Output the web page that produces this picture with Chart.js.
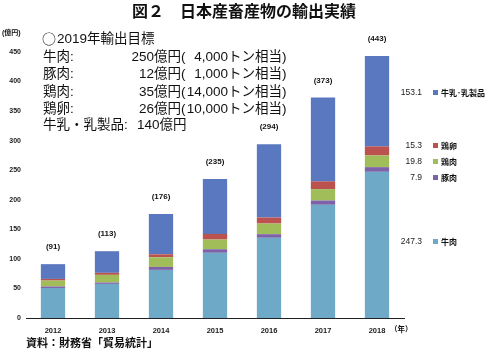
<!DOCTYPE html>
<html><head><meta charset="utf-8">
<script src="https://cdn.jsdelivr.net/npm/chart.js@4/dist/chart.umd.min.js"></script>
<style>html,body{margin:0;padding:0;background:#fff;}#wrap{position:relative;width:488px;height:355px;}</style>
</head><body><div id="wrap"><canvas id="c" width="488" height="355"></canvas></div>
<script>
const years = ['2012','2013','2014','2015','2016','2017','2018'];
const beef    = [50.8, 57.7, 81.4, 110.3, 135.7, 191.5, 247.3];
const pork    = [2.5, 2.3, 5.0, 6.0, 6.1, 7.3, 7.9];
const chicken = [10.0, 13.0, 16.4, 16.4, 18.0, 19.3, 19.8];
const egg     = [2.8, 3.4, 5.0, 9.6, 10.2, 13.0, 15.3];
const dairy   = [25.0, 36.6, 68.2, 92.7, 124.0, 141.9, 153.1];
const totals  = [91, 113, 176, 235, 294, 373, 443];
const seriesNames = ['牛肉','豚肉','鶏肉','鶏卵','牛乳･乳製品'];
const lastValues = ['247.3','7.9','19.8','15.3','153.1'];
const yTicks = [0,50,100,150,200,250,300,350,400,450];
const title = '図２　日本産畜産物の輸出実績';
const source = '資料：財務省「貿易統計」';
const goalHead = ['○','2019年輸出目標'];
const goalItems = ['牛肉:','豚肉:','鶏肉:','鶏卵:'];
const goalYen = ['250','12','35','26'];
const goalTon = ['4,000','1,000','14,000','10,000'];
const goalDairy = ['牛乳・乳製品:','140億円'];

const colors = ['#6FA9C8','#7D62A8','#A1BD5A','#BC524F','#5A78C0'];
const F = "'Liberation Sans','Noto Sans CJK JP',sans-serif";
const FJ = "'Noto Sans CJK JP',sans-serif";

const textPlugin = {
  id: 'texts',
  afterDraw(chart) {
    const ctx = chart.ctx;
    const y = chart.scales.y, x = chart.scales.x;
    ctx.save();
    ctx.fillStyle = '#111';
    ctx.font = "bold 16px " + FJ;
    ctx.textAlign = 'center'; ctx.textBaseline = 'middle';
    ctx.fillText(title, 244, 11);
    ctx.font = "bold 7px " + F;
    ctx.textAlign = 'left';
    ctx.fillText('(億円)', 2, 33);
    ctx.font = "bold 7.5px " + F;
    ctx.fillText('（年）', 390, 330);
    ctx.font = "bold 8px " + F;
    ctx.textAlign = 'center';
    totals.forEach((t, i) => {
      ctx.fillText('(' + t + ')', x.getPixelForValue(i), y.getPixelForValue(t) - 17);
    });
    ctx.textAlign = 'left';
    ctx.font = "14px " + FJ;
    ctx.fillText(goalHead[0], 42, 39);
    ctx.font = "13.5px " + F;
    ctx.fillText(goalHead[1], 57, 39);
    const ly = [57, 74.5, 92, 109];
    goalItems.forEach((g, i) => {
      ctx.textAlign = 'left';
      ctx.fillText(g, 43, ly[i]);
      ctx.textAlign = 'right';
      ctx.fillText(goalYen[i], 154, ly[i]);
      ctx.textAlign = 'left';
      ctx.fillText('億円(', 154, ly[i]);
      ctx.textAlign = 'right';
      ctx.fillText(goalTon[i], 228, ly[i]);
      ctx.textAlign = 'left';
      ctx.fillText('トン相当)', 228, ly[i]);
    });
    ctx.fillText(goalDairy[0], 43, 125);
    ctx.fillText(goalDairy[1], 137, 125);
    const ry = [242, 178, 162, 146, 93];
    ry.forEach((yy, i) => {
      ctx.font = "8.5px " + F;
      ctx.textAlign = 'right';
      ctx.fillStyle = '#222';
      ctx.fillText(lastValues[i], 422, yy);
      ctx.fillStyle = colors[i];
      ctx.fillRect(433, yy - 3, 5, 5);
      ctx.fillStyle = '#111';
      ctx.font = "bold 8px " + FJ;
      ctx.textAlign = 'left';
      ctx.fillText(seriesNames[i], 441, yy);
    });
    ctx.font = "bold 11px " + FJ;
    ctx.textAlign = 'left';
    ctx.fillText(source, 26, 343);
    ctx.restore();
  }
};

const datasets = [beef, pork, chicken, egg, dairy].map((d, i) => ({
  label: seriesNames[i], data: d, backgroundColor: colors[i], borderWidth: 0,
  barPercentage: 0.45, categoryPercentage: 1
}));

new Chart(document.getElementById('c'), {
  type: 'bar',
  data: { labels: years, datasets },
  options: {
    responsive: false, animation: false,
    layout: { padding: { left: 0, top: 52, right: 84, bottom: 0 } },
    plugins: { legend: { display: false }, tooltip: { enabled: false } },
    scales: {
      x: {
        stacked: true,
        grid: { display: false, drawTicks: false },
        border: { display: true, color: '#222', width: 1 },
        ticks: { color: '#222', font: { family: F, size: 7.5, weight: 'bold' }, padding: 8 },
        afterFit: s => { s.height = 37; }
      },
      y: {
        stacked: true, min: 0, max: 450,
        grid: { display: false, drawTicks: false },
        border: { display: false },
        afterBuildTicks: s => { s.ticks = yTicks.map(v => ({ value: v })); },
        ticks: { color: '#222', font: { family: F, size: 7, weight: 'bold' }, padding: 5 },
        afterFit: s => { s.width = 26; }
      }
    }
  },
  plugins: [textPlugin]
});
</script></body></html>
